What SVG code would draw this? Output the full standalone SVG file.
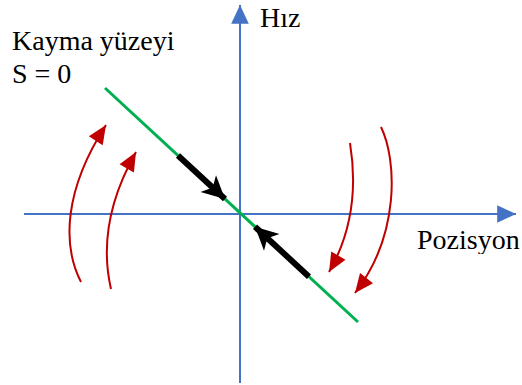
<svg xmlns="http://www.w3.org/2000/svg" width="522" height="385" viewBox="0 0 522 385">
<style>
.axis{stroke:#4472C4;stroke-width:2;fill:none}
.green{stroke:#00B050;stroke-width:3;fill:none}
.black{stroke:#000;stroke-width:6;fill:none}
.red{stroke:#C00000;stroke-width:2;fill:none}
.lbl{font-family:'Liberation Serif',Tinos,'DejaVu Serif',serif;font-size:28px;fill:#000}
</style>
<defs>
<marker id="ax" markerUnits="userSpaceOnUse" markerWidth="20" markerHeight="20" refX="16" refY="0" viewBox="0 -8 17 16" orient="auto" overflow="visible">
<path d="M0,-7.5 L16,0 L0,7.5 z" fill="#4472C4"/>
</marker>
<marker id="bk" markerUnits="userSpaceOnUse" markerWidth="24" markerHeight="24" refX="19" refY="0" viewBox="0 -10 20 20" orient="auto" overflow="visible">
<path d="M0,-9.5 L19,0 L0,9.5 L5,0 z" fill="#000"/>
</marker>
<marker id="rd" markerUnits="userSpaceOnUse" markerWidth="20" markerHeight="20" refX="16" refY="0" viewBox="0 -8 17 16" orient="auto" overflow="visible">
<path d="M0,-7 L16,0 L0,7 z" fill="#C00000"/>
</marker>
<clipPath id="pclip"><rect x="400" y="200" width="122" height="54"/></clipPath>
</defs>
<g id="axes">
<line class="axis" x1="240" y1="383" x2="240" y2="5" marker-end="url(#ax)"/>
<line class="axis" x1="24" y1="214" x2="516" y2="214" marker-end="url(#ax)"/>
</g>
<g id="surface">
<line class="green" x1="105" y1="88" x2="358" y2="322"/>
</g>
<g id="connectors">
<line class="black" x1="178" y1="155.5" x2="225" y2="199" marker-end="url(#bk)"/>
<line class="black" x1="309" y1="276.7" x2="255" y2="226.8" marker-end="url(#bk)"/>
<path class="red" d="M81,282 C62,245 64,190 106,125" marker-end="url(#rd)"/>
<path class="red" d="M111,289 C102,250 106,205 136,152" marker-end="url(#rd)"/>
<path class="red" d="M350,143 C356,180 356,225 329,272" marker-end="url(#rd)"/>
<path class="red" d="M381,127 C397,160 400,235 355,293" marker-end="url(#rd)"/>
</g>
<g id="labels">
<text class="lbl" x="12" y="50">Kayma yüzeyi</text>
<text class="lbl" x="12" y="83">S = 0</text>
<text class="lbl" x="260" y="27">Hız</text>
<text class="lbl" x="417" y="249" clip-path="url(#pclip)">Pozisyon</text>
</g>
</svg>
